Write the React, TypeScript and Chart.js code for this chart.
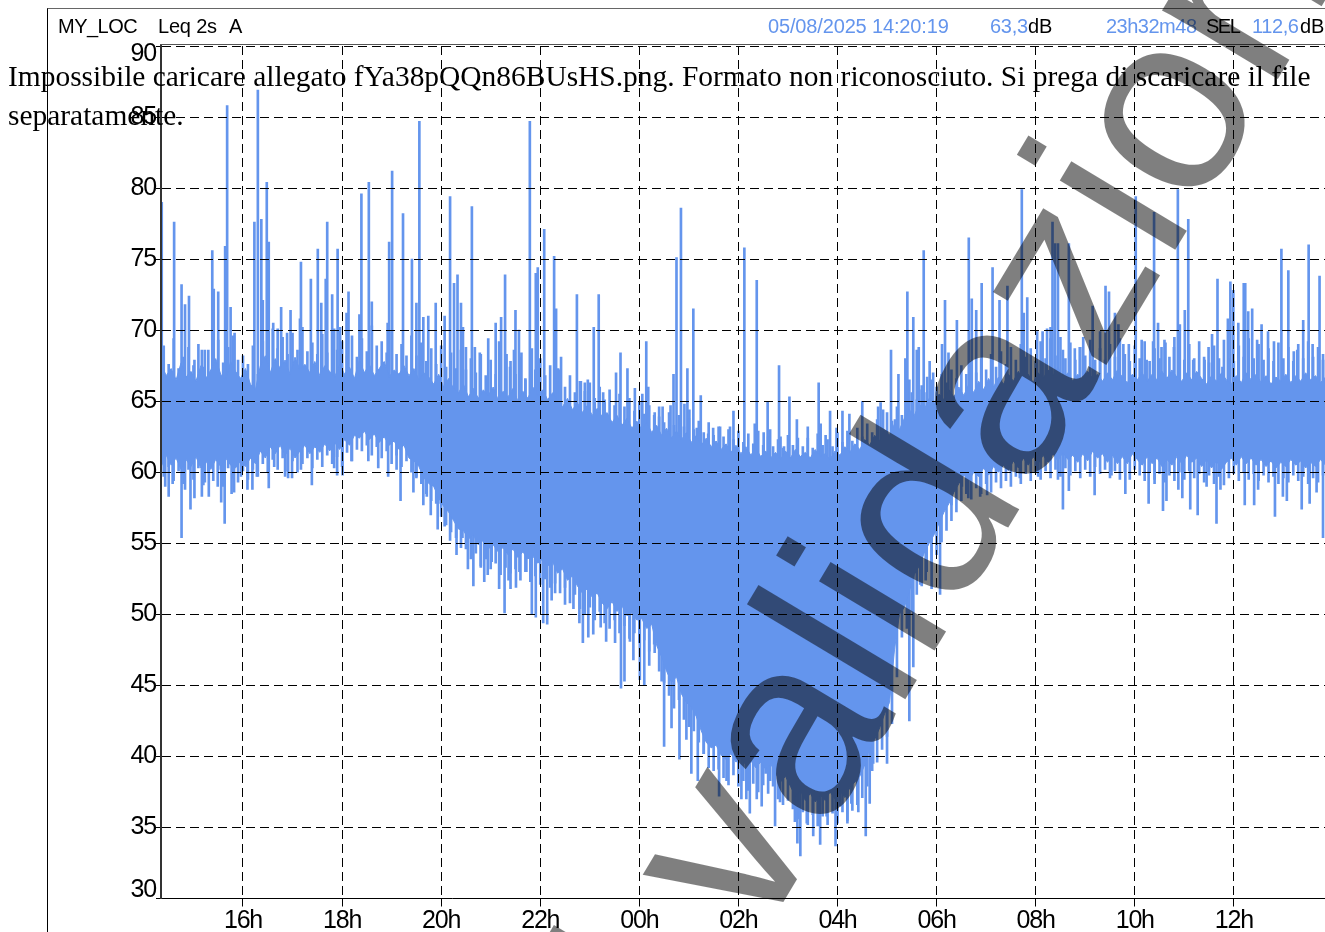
import React, { useEffect, useRef } from "react";
import { Chart, registerables } from "chart.js";

Chart.register(...registerables);

const seriesColor = "#6495ED";

const startHour = 14.35;
const stepHour = 0.1;

const bodyTop = [
  67.6,66.8,67.3,66.5,67.7,66.7,67.1,66.4,67.5,66.6,
  67.2,68.0,66.9,66.5,67.8,67.1,66.6,67.3,66.2,65.8,
  67.5,68.2,67.0,68.0,67.3,67.9,66.9,68.1,67.2,67.6,
  67.0,67.8,66.8,67.5,67.1,66.7,67.6,66.9,67.4,66.6,
  67.9,67.0,67.6,66.8,67.3,67.8,66.7,67.2,66.9,67.5,
  66.8,67.3,66.5,67.0,66.7,66.2,66.9,66.0,66.6,65.9,
  65.6,66.2,65.3,65.9,65.2,65.8,65.4,66.0,65.1,65.7,
  65.3,65.9,65.0,65.7,65.2,66.0,65.4,65.8,65.1,65.6,
  65.0,64.6,65.2,64.4,64.9,64.2,64.7,64.0,64.5,63.9,
  64.2,63.5,64.0,63.3,63.8,63.1,63.6,63.0,63.5,62.8,
  63.3,62.6,63.1,62.4,62.9,62.3,62.8,62.1,62.6,61.9,
  62.4,61.8,62.2,61.6,62.0,61.4,61.9,61.3,61.8,61.2,
  61.7,61.1,61.5,61.0,61.4,60.9,61.5,61.0,61.6,61.1,
  61.4,61.0,61.6,61.1,61.3,60.9,61.5,61.2,61.8,61.4,
  62.0,61.6,62.3,61.9,62.6,62.2,63.0,62.6,63.4,63.0,
  63.8,64.4,64.0,64.8,64.4,65.2,64.8,65.5,65.1,65.8,
  65.3,66.0,65.4,66.2,65.6,66.4,65.8,66.6,66.0,66.7,
  66.2,66.9,66.4,67.1,66.5,66.9,66.3,67.0,66.6,67.2,
  66.8,67.4,66.6,67.0,66.4,66.9,66.5,67.1,66.6,66.9,
  66.4,67.0,66.5,67.2,66.7,66.3,66.9,66.5,67.0,66.4,
  66.9,66.5,67.1,66.6,67.2,66.7,66.4,67.0,66.5,67.1,
  66.6,66.2,66.8,66.4,67.0,66.5,66.2,66.8,66.3,67.0,
  66.5,66.9,66.3,66.8,66.2,66.7,66.4,66.9,66.3,66.8,
  66.4,67.0,66.5,66.8,66.3,66.7,
];

const bodyBottom = [
  60.4,61.2,60.5,61.0,60.2,60.9,60.4,61.1,60.3,60.8,
  60.2,60.9,60.4,61.0,60.5,60.3,60.8,60.4,61.0,60.6,
  61.5,61.0,61.8,61.3,61.9,61.2,61.7,61.0,61.5,61.9,
  61.3,61.8,61.4,62.0,61.5,62.1,61.6,62.3,61.9,62.6,
  62.4,62.9,62.3,62.7,62.1,62.5,61.9,62.2,61.6,61.9,
  61.0,60.8,60.4,59.6,59.2,59.0,58.2,57.6,57.2,56.6,
  56.0,55.9,55.3,55.6,54.9,55.2,54.6,54.9,54.4,54.7,
  54.2,54.6,54.0,54.4,53.9,54.1,53.6,53.9,53.4,53.7,
  52.9,53.2,52.4,52.7,52.0,51.5,51.8,51.2,51.5,50.8,
  50.4,50.9,50.2,50.6,49.9,50.1,49.6,49.7,49.0,49.3,
  47.8,47.0,46.0,45.2,45.6,44.4,43.8,43.5,42.8,41.8,
  41.0,40.6,40.8,40.1,39.8,40.2,39.6,39.9,39.4,39.7,
  39.2,39.6,39.1,39.5,38.8,38.2,38.6,37.9,37.2,37.6,
  36.9,37.4,36.8,37.3,36.9,37.5,37.0,37.6,37.1,37.8,
  38.2,38.6,39.4,40.6,41.2,42.0,43.0,43.8,47.5,50.0,
  50.5,51.6,52.8,53.4,54.3,55.0,55.6,56.4,57.2,57.8,
  58.6,59.2,59.8,59.4,60.0,59.7,60.3,59.8,60.4,60.0,
  60.5,60.1,60.8,60.3,61.0,60.5,61.1,60.6,61.2,60.7,
  61.3,60.8,61.4,60.9,61.2,60.7,61.3,60.8,61.5,61.0,
  61.3,60.7,61.2,60.6,61.1,60.6,61.3,60.9,60.5,61.1,
  60.6,61.0,60.4,60.9,60.5,61.1,60.6,61.2,60.7,61.0,
  60.4,60.9,60.3,60.8,60.2,60.7,61.0,60.5,61.1,60.6,
  61.0,60.5,60.9,60.4,60.8,60.3,60.7,60.4,60.9,60.5,
  60.8,60.3,60.7,60.4,60.9,60.5,
];

const fringeStartHour = 14.4;

const fringeTop = [
  68.9,67.6,69.4,67.3,68.1,68.8,67.5,69.0,67.4,68.6,
  68.0,69.3,67.7,68.8,69.6,67.9,68.2,67.6,68.9,66.9,
  69.2,68.4,70.1,68.7,69.5,68.3,69.8,68.6,70.2,68.5,
  69.1,68.3,69.7,68.4,70.0,68.6,69.2,68.2,69.6,68.1,
  69.4,68.5,70.3,68.9,69.2,68.4,69.9,68.3,69.0,68.2,
  69.6,68.2,69.1,67.8,68.7,67.6,68.9,67.4,68.4,67.3,
  68.6,67.2,68.0,67.0,68.3,66.8,67.9,66.9,68.2,66.7,
  67.8,66.9,68.1,66.6,67.7,67.2,68.0,66.8,67.5,66.6,
  67.2,66.0,66.8,65.6,66.4,65.7,66.3,65.2,66.0,65.1,
  65.8,64.7,65.5,64.6,65.2,64.3,65.0,64.1,64.7,64.0,
  64.6,63.5,64.2,63.3,64.0,63.2,63.8,63.0,63.6,62.8,
  63.5,62.6,63.2,62.5,63.0,62.3,62.9,62.1,62.7,62.0,
  62.9,61.9,62.5,61.8,62.3,61.7,62.6,61.9,62.4,61.8,
  62.4,61.7,62.7,61.9,62.3,61.8,62.8,62.1,62.9,62.2,
  63.1,62.5,63.4,62.8,63.7,63.1,64.2,63.6,64.6,64.0,
  65.0,65.6,65.1,66.1,65.6,66.5,66.0,66.9,66.3,67.2,
  66.6,67.5,66.9,67.8,67.0,68.0,67.2,68.3,67.4,68.5,
  67.6,68.8,67.9,69.0,68.1,68.7,67.8,69.2,68.0,69.4,
  68.2,69.5,68.0,69.1,67.9,68.8,68.2,69.3,67.9,68.7,
  67.9,69.0,68.1,69.4,68.3,67.8,68.9,68.0,69.2,67.8,
  68.7,68.0,69.3,68.1,69.5,68.2,67.9,69.0,68.0,69.2,
  68.1,67.7,68.9,68.0,69.3,68.0,67.8,68.9,68.1,69.4,
  68.0,69.0,67.9,68.7,67.8,69.1,68.0,68.8,67.8,69.0,
  68.0,69.2,68.1,68.8,67.9,
];

const fringeBottom = [
  59.7,60.4,59.4,60.1,59.2,60.2,59.5,60.3,59.1,60.0,
  59.4,60.2,59.0,60.3,59.6,59.3,60.1,59.5,60.2,59.7,
  60.6,60.0,60.9,60.2,61.0,60.1,60.8,60.0,60.6,61.0,
  60.3,60.9,60.4,61.2,60.6,61.1,60.4,61.4,60.8,61.6,
  61.5,61.9,61.2,61.8,61.0,61.5,60.6,61.2,60.4,60.8,
  60.0,59.7,59.2,58.5,58.0,57.8,56.9,56.3,55.8,55.4,
  54.7,54.6,53.9,54.3,53.4,53.9,53.2,53.6,52.8,53.3,
  52.9,53.2,52.4,53.0,52.3,52.7,52.1,52.5,51.9,52.2,
  51.5,51.9,50.8,51.4,50.4,50.0,50.5,49.6,50.2,49.4,
  49.0,49.6,48.7,49.2,48.3,48.7,48.0,48.2,47.4,47.9,
  46.0,45.2,44.3,43.4,44.0,42.6,42.1,41.8,41.0,40.2,
  39.2,39.0,39.1,38.5,38.0,38.7,37.9,38.3,37.6,38.1,
  37.5,38.0,37.4,37.9,37.0,36.6,36.9,36.3,35.6,36.1,
  35.2,35.9,35.1,35.8,35.2,36.0,35.3,36.1,35.5,36.2,
  36.6,37.1,37.9,39.0,39.6,40.5,41.4,42.3,45.6,48.4,
  49.0,50.2,51.4,52.0,53.0,53.6,54.2,55.1,55.9,56.6,
  57.2,58.0,58.5,58.1,58.9,58.5,59.2,58.6,59.3,58.9,
  59.4,59.0,59.7,59.2,59.9,59.4,60.0,59.5,60.1,59.6,
  60.2,59.7,60.3,59.8,60.1,59.6,60.2,59.7,60.4,59.9,
  60.2,59.6,60.1,59.5,60.0,59.5,60.2,59.8,59.4,60.0,
  59.5,59.9,59.3,59.8,59.4,60.0,59.5,60.1,59.6,59.9,
  59.3,59.8,59.2,59.7,59.1,59.6,59.9,59.4,60.0,59.5,
  59.9,59.4,59.8,59.3,59.7,59.2,59.6,59.3,59.8,59.4,
  59.7,59.2,59.6,59.3,59.8,
];

const peakHours = [
  14.36,14.61,14.76,14.83,14.91,15.02,15.17,15.23,15.38,15.41,15.5,15.64,15.68,15.75,15.83,
  16.23,16.3,16.37,16.4,16.48,16.52,16.61,16.7,16.77,16.89,16.96,17.15,17.17,17.37,17.51,17.58,17.67,17.7,17.8,17.84,17.91,17.96,
  18.09,18.13,18.35,18.39,18.54,18.6,18.92,18.95,19.01,19.23,19.41,19.5,19.56,19.64,19.74,19.89,
  20.07,20.18,20.26,20.33,20.4,20.44,20.5,20.62,20.68,20.78,20.95,21.1,21.17,21.21,21.29,21.32,21.39,21.47,21.5,21.57,21.62,21.7,21.79,21.83,21.91,21.95,
  22.08,22.28,22.32,22.36,22.42,22.74,22.82,22.9,22.96,23.08,23.18,23.27,23.53,23.62,23.76,23.91,
  24.06,24.14,24.18,24.31,24.4,24.47,24.63,24.69,24.75,24.84,24.91,24.97,25.01,25.09,25.16,25.24,25.39,25.49,25.63,25.83,25.9,
  26.12,26.33,26.37,26.51,26.59,26.64,26.82,26.85,26.92,27.03,27.18,27.4,27.62,27.66,27.76,27.85,27.98,
  28.1,28.24,28.5,28.82,28.87,28.92,29.08,29.16,29.23,29.37,29.41,29.45,29.53,29.6,29.64,29.7,29.74,29.81,29.86,29.93,
  30.11,30.17,30.24,30.41,30.65,30.71,30.8,30.91,31.13,31.27,31.43,31.72,31.76,31.83,
  32.03,32.14,32.23,32.3,32.34,32.39,32.45,32.55,32.67,32.79,32.89,32.96,33.15,33.3,33.41,33.48,33.6,33.67,33.77,33.88,
  34.02,34.14,34.24,34.37,34.39,34.47,34.54,34.62,34.79,34.87,34.91,35.01,35.08,35.18,35.41,35.49,35.56,35.67,35.77,35.88,35.93,35.99,
  36.09,36.2,36.23,36.29,36.37,36.47,36.56,36.69,36.81,36.96,37.1,37.21,37.28,37.4,37.51,37.59,37.73,37.8,
];

const peakLevels = [
  79,77.6,73.2,71.8,72.4,67.9,68.6,68.6,75.6,72.9,72.7,75.9,85.8,71.6,69.8,
  77.6,86.9,77.8,72.1,80.4,76.2,70.5,70.1,71.6,69.8,71.4,70.8,74.8,73.6,75.7,71.9,73.6,77.6,72.5,70.1,75.7,70.2,
  71.2,72.7,71.1,79.6,80.4,72,70.5,76.2,81.2,78.2,75,71.9,84.7,70.9,71,71.9,
  71,79.4,73.3,73.9,71.9,70.2,68.8,78.7,68.8,68.4,69.4,70.5,69.2,70.9,73.9,68.3,67.4,68.6,71.4,70,68.4,66.5,84.7,68.7,74,74.4,
  77.1,75.2,71.5,67.3,68.1,72.5,66.4,66.3,66.5,70.2,72.5,65.6,67,68.4,67.3,65.9,
  65.5,69.2,66,64.2,63.9,64.6,64.7,66.9,75.1,78.6,64.8,67.3,64.4,71.5,63.1,65.4,62.7,63.1,63.2,63.2,64.3,
  75.8,63.4,73.5,62.8,65,63,67.5,62.5,61.8,65.3,63.7,63.2,66.3,63.4,62.6,64.3,63.1,
  64.3,64.1,65,64.6,64.9,64.4,68.6,63.7,66.9,68,72.7,66.5,70.9,68.6,68.8,65.8,75.6,66.7,67.8,67,
  69,72.1,68.4,70.7,76.5,72.2,71.4,73.3,74.4,72.1,73.1,79.9,71.2,72.3,
  69.9,69.9,70.1,70.2,77.6,76.1,76.1,68.6,76.1,68.7,68.8,69.5,71.7,69.9,73.1,72.7,71.2,70.4,69,69,
  79.4,69.3,67.9,69.2,78.3,70.5,68.8,69.1,68.8,79.9,70.4,71.4,77.8,67.9,67.9,68.8,69.7,73.6,67.4,70.8,73.4,72.8,
  70.5,73.3,73.3,71.3,71.5,69.3,70.4,69.9,69.2,75.7,74.2,68.5,68.6,70.7,76,69,73.8,68.3,
];

const dipHours = [
  14.43,14.5,14.58,14.76,14.83,14.94,15.02,15.17,15.23,15.31,15.49,15.56,15.63,15.77,15.82,15.96,
  16.09,16.19,16.28,16.52,16.63,16.85,16.91,16.99,17.17,17.39,17.84,17.9,18.01,18.19,18.53,18.73,18.93,19.1,19.18,19.44,19.5,19.64,19.71,19.79,19.93,19.99,
  20.07,20.18,20.31,20.43,20.54,20.65,20.8,20.87,20.94,21.02,21.17,21.28,21.36,21.4,21.51,21.58,21.72,21.83,21.91,22.06,22.14,22.23,22.3,22.5,22.67,22.79,22.86,22.97,
  23.07,23.22,23.33,23.51,23.63,23.7,23.81,23.88,24.01,24.1,24.2,24.31,24.45,24.5,24.65,24.81,24.95,25.05,25.18,25.3,25.61,25.76,
  26.06,26.16,26.23,26.37,26.47,26.55,26.64,26.74,26.84,27.14,27.19,27.25,27.38,27.51,27.65,27.78,27.96,28.05,28.2,28.28,28.42,28.57,28.65,28.72,29,29.45,29.53,29.67,29.78,29.9,
  30.07,30.17,30.3,30.51,30.64,30.88,31.02,31.68,32.05,32.45,32.55,32.67,33.19,33.53,33.81,34.28,34.4,34.57,34.64,34.88,34.96,35.12,35.27,35.45,35.65,35.73,
  36.22,36.41,36.49,36.83,36.99,37.07,37.37,37.53,37.67,37.8,
];

const dipLevels = [
  59,58.3,59.2,55.4,58.8,57.4,58.2,58.3,59.3,58.3,59,57.9,56.4,58.5,58.6,59.7,
  58.8,58.8,59.7,58.9,60.4,59.7,59.6,59.6,60.2,59.1,60.3,59.8,59.8,60.8,60.8,60.3,59.7,60.2,58,58.6,59.6,57.7,58.3,57,56,57.8,
  56.2,55.2,54.2,55.4,53.2,52,53.3,52.3,52.8,53.7,51.8,50.1,52.4,51.8,51.9,53,53,50,49.8,49.4,49.3,51,51.5,50.7,50.4,49.4,48,48.4,
  48.6,49.1,48.1,48,44.8,45.3,48.1,46.8,45.4,45,46.4,47.3,45.3,40.7,42,39.8,41.2,38.8,38.3,40.2,37.2,38.3,
  37,37,36,37,36.5,38.8,38.3,35.1,36.8,35.4,33.9,33,35.3,34.4,33.8,35.8,33.7,36.5,35.3,36.7,36.1,34.4,36.7,39.5,39.5,42.5,46.3,52.1,52.4,51.8,
  51.4,57.8,57.7,59,58.2,58.3,58.4,59.6,59.7,59.5,57.4,58.7,58.4,59.8,58.5,57.8,59.2,57.3,58,58.8,58.2,57.4,57,59,56.4,58.8,
  57.7,57.7,58.8,56.9,58.3,58,57.4,57.8,58.6,55.4,
];

const xTickHours = [16, 18, 20, 22, 24, 26, 28, 30, 32, 34, 36];
const xTickLabels = ["16h", "18h", "20h", "22h", "00h", "02h", "04h", "06h", "08h", "10h", "12h"];
const yTickValues = [30, 35, 40, 45, 50, 55, 60, 65, 70, 75, 80, 85, 90];

const headerTexts = [
  { text: "MY_LOC", x: 58, color: "#000", spacing: -0.5 },
  { text: "Leq 2s", x: 158, color: "#000", spacing: -0.2 },
  { text: "A", x: 229, color: "#000", spacing: 0 },
  { text: "05/08/2025 14:20:19", x: 768, color: seriesColor, spacing: -0.15 },
  { text: "63,3", x: 990, color: seriesColor, spacing: -0.3 },
  { text: "dB", x: 1028, color: "#000", spacing: -0.2 },
  { text: "23h32m48", x: 1106, color: seriesColor, spacing: -0.5 },
  { text: "SEL", x: 1206, color: "#000", spacing: -1.5 },
  { text: "112,6", x: 1252, color: seriesColor, spacing: -0.4 },
  { text: "dB", x: 1300, color: "#000", spacing: -0.2 },
];

const messageText =
  "Impossibile caricare allegato fYa38pQQn86BUsHS.png. Formato non riconosciuto. Si prega di scaricare il file separatamente.";
const watermarkText = "l validazione";

const bodyIndex = (h: number) =>
  Math.max(0, Math.min(bodyTop.length - 1, Math.round((h - startHour) / stepHour)));
const bodyMiddle = (h: number) => (bodyTop[bodyIndex(h)] + bodyBottom[bodyIndex(h)]) / 2;
const fringeHour = (i: number) => fringeStartHour + i * stepHour;

export default function App() {
  const ref = useRef<HTMLCanvasElement>(null);
  useEffect(() => {
    const canvas = ref.current;
    if (!canvas) return;
    const framePlugin = {
      id: "frame",
      beforeDraw(chart: any) {
        chart.ctx.letterSpacing = "-1.2px";
      },
      afterDraw(chart: any) {
        const ctx = chart.ctx;
        ctx.save();
        ctx.textBaseline = "alphabetic";
        ctx.textAlign = "left";
        headerTexts.forEach((t) => {
          ctx.font = '20px "Liberation Sans"';
          ctx.letterSpacing = `${t.spacing}px`;
          ctx.fillStyle = t.color;
          ctx.fillText(t.text, t.x, 33);
        });
        ctx.restore();
      },
    };
    const barStyle = {
      type: "bar",
      backgroundColor: seriesColor,
      barThickness: 2,
      grouped: false,
    };
    const chart = new Chart(canvas, {
      type: "bar",
      data: {
        datasets: [
          {
            type: "line",
            data: bodyTop.map((y, i) => ({ x: startHour + i * stepHour, y })),
            borderColor: seriesColor,
            backgroundColor: seriesColor,
            borderWidth: 1,
            pointRadius: 0,
            fill: "+1",
            tension: 0,
          },
          {
            type: "line",
            data: bodyBottom.map((y, i) => ({ x: startHour + i * stepHour, y })),
            borderColor: seriesColor,
            borderWidth: 1,
            pointRadius: 0,
            fill: false,
            tension: 0,
          },
          { ...barStyle, data: fringeTop.map((v, i) => ({ x: fringeHour(i), y: [bodyMiddle(fringeHour(i)), v] })) },
          { ...barStyle, data: fringeBottom.map((v, i) => ({ x: fringeHour(i), y: [v, bodyMiddle(fringeHour(i))] })) },
          { ...barStyle, data: peakHours.map((h, i) => ({ x: h, y: [bodyMiddle(h), peakLevels[i]] })) },
          { ...barStyle, data: dipHours.map((h, i) => ({ x: h, y: [dipLevels[i], bodyMiddle(h)] })) },
        ] as any,
      },
      options: {
        responsive: false,
        animation: false,
        events: [],
        layout: { padding: { top: 46, left: 0, right: 0, bottom: 0 } },
        plugins: { legend: { display: false }, tooltip: { enabled: false }, title: { display: false } },
        scales: {
          x: {
            type: "linear",
            offset: false,
            min: 14.345,
            max: 37.84,
            afterBuildTicks: (s: any) => {
              s.ticks = xTickHours.map((value) => ({ value }));
            },
            afterFit: (s: any) => {
              s.height = 33.5;
            },
            grid: { offset: false, color: "#000", lineWidth: 1, z: 1, tickLength: 8, tickColor: "#000", tickBorderDash: [] },
            border: { color: "#000", width: 1, dash: [9, 5], z: 1 },
            ticks: {
              color: "#000",
              padding: 0,
              maxRotation: 0,
              autoSkip: false,
              font: { family: "Liberation Sans", size: 25 },
              callback: (v: any) => xTickLabels[xTickHours.indexOf(Number(v))] ?? "",
            },
          },
          y: {
            type: "linear",
            min: 30,
            max: 90,
            afterBuildTicks: (s: any) => {
              s.ticks = yTickValues.map((value) => ({ value }));
            },
            afterFit: (s: any) => {
              s.width = 161;
            },
            grid: { offset: false, color: "#000", lineWidth: 1, z: 1, tickLength: 5, tickColor: "#000", tickBorderDash: [] },
            border: { color: "#333", width: 2, dash: [9, 5], z: 1 },
            ticks: {
              color: "#000",
              padding: 0,
              autoSkip: false,
              font: { family: "Liberation Sans", size: 25, lineHeight: 0.65 },
              callback: (v: any) =>
                v === 90 ? ["", String(v)] : v === 30 ? [String(v), ""] : String(v),
            },
          },
        },
      } as any,
      plugins: [framePlugin],
    });
    return () => chart.destroy();
  }, []);

  return (
    <div style={{ position: "absolute", left: 0, top: 0, width: 1325, height: 932, overflow: "hidden", background: "#fff" }}>
      <canvas ref={ref} width={1325} height={932} style={{ position: "absolute", left: 0, top: 0, display: "block" }} />
      <div style={{ position: "absolute", left: 47, top: 8, width: 1278, height: 924, borderLeft: "1px solid #000", borderTop: "1px solid #666", boxSizing: "border-box" }} />
      <div style={{ position: "absolute", left: 160, top: 44, width: 1165, height: 1, background: "#555" }} />
      <div style={{ position: "absolute", left: 8, top: 57, width: 1315, fontFamily: "'Liberation Serif', serif", fontSize: 29.45, lineHeight: "39px", color: "#000" }}>
        {messageText}
      </div>
      <div
        style={{
          position: "absolute",
          left: 691.6,
          top: 1053.7,
          transformOrigin: "0 0",
          transform: "rotate(-59deg) translateY(-0.8465em)",
          fontFamily: "'Liberation Sans', Arial, sans-serif",
          fontSize: 255,
          lineHeight: 1,
          whiteSpace: "nowrap",
          color: "rgba(0,0,0,0.5)",
          pointerEvents: "none",
        }}
      >
        {watermarkText}
      </div>
    </div>
  );
}
